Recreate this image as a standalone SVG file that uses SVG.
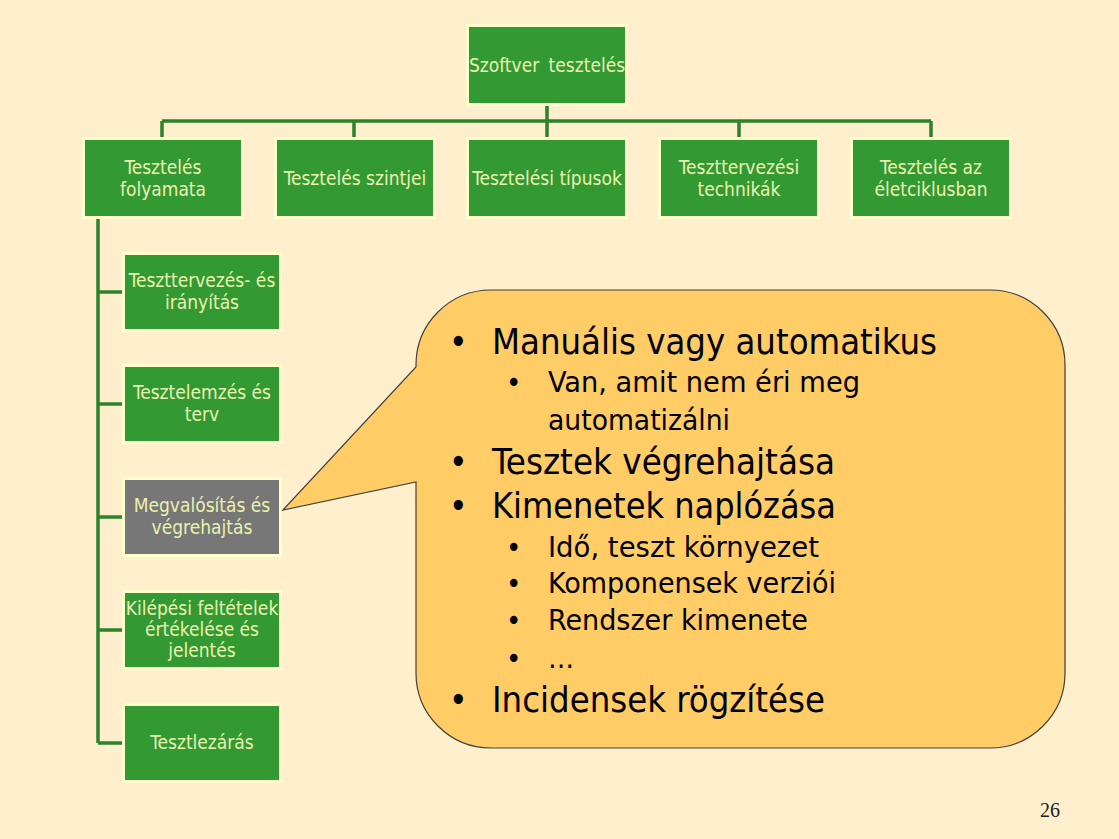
<svg xmlns="http://www.w3.org/2000/svg" width="1119" height="839" viewBox="0 0 1119 839">
<defs>
<style>
.bg{fill:#FFEFCC}
.box{fill:#339933;stroke:#FFFFCC;stroke-width:3}
.gray{fill:#777777;stroke:#FFFFCC;stroke-width:3}
.lbl{font-family:'DejaVu Sans Condensed','DejaVu Sans',sans-serif;font-size:19px;fill:#EAF2B0;text-anchor:middle}
.conn{stroke:#2C832C;stroke-width:3.5;fill:none}
.callout{fill:#FFCC66;stroke:#404040;stroke-width:1.2}
.t1{font-family:'DejaVu Sans Condensed','DejaVu Sans',sans-serif;font-size:35px;fill:#000}
.t2{font-family:'DejaVu Sans Condensed','DejaVu Sans',sans-serif;font-size:29px;fill:#000}
.pg{font-family:'Liberation Serif',serif;font-size:20px;fill:#222}
</style>
</defs>
<rect class="bg" x="0" y="0" width="1119" height="839"/>

<g id="connectors">
<path class="conn" d="M547,106 V137 M162,121 H931 M162,121 V137 M354,121 V137 M739,121 V137 M931,121 V137"/>
<path class="conn" d="M98,219 V743 M98,292 H122 M98,404 H122 M98,517 H122 M98,630 H122 M98,743 H122"/>
</g>

<g id="n-root">
<rect class="box" x="467.5" y="25.5" width="159" height="79"/>
<text class="lbl" x="547" y="72" word-spacing="4">Szoftver tesztelés</text>
</g>

<g id="n-folyamata">
<rect class="box" x="83.5" y="138.5" width="159" height="79"/>
<text class="lbl" x="163" y="174">Tesztelés</text>
<text class="lbl" x="163" y="196">folyamata</text>
</g>
<g id="n-szintjei">
<rect class="box" x="275.5" y="138.5" width="159" height="79"/>
<text class="lbl" x="355" y="185">Tesztelés szintjei</text>
</g>
<g id="n-tipusok">
<rect class="box" x="467.5" y="138.5" width="159" height="79"/>
<text class="lbl" x="547" y="185">Tesztelési típusok</text>
</g>
<g id="n-technikak">
<rect class="box" x="659.5" y="138.5" width="159" height="79"/>
<text class="lbl" x="739" y="174">Teszttervezési</text>
<text class="lbl" x="739" y="196">technikák</text>
</g>
<g id="n-eletciklus">
<rect class="box" x="851.5" y="138.5" width="159" height="79"/>
<text class="lbl" x="931" y="174">Tesztelés az</text>
<text class="lbl" x="931" y="196">életciklusban</text>
</g>

<g id="n-tervezes">
<rect class="box" x="123.5" y="253.5" width="157" height="77"/>
<text class="lbl" x="202" y="287">Teszttervezés- és</text>
<text class="lbl" x="202" y="309">irányítás</text>
</g>
<g id="n-elemzes">
<rect class="box" x="123.5" y="365.5" width="157" height="77"/>
<text class="lbl" x="202" y="399">Tesztelemzés és</text>
<text class="lbl" x="202" y="421">terv</text>
</g>
<g id="n-megvalositas">
<rect class="gray" x="123.5" y="478.5" width="157" height="77"/>
<text class="lbl" x="202" y="512">Megvalósítás és</text>
<text class="lbl" x="202" y="534">végrehajtás</text>
</g>
<g id="n-kilepesi">
<rect class="box" x="123.5" y="591.5" width="157" height="77"/>
<text class="lbl" x="202" y="615">Kilépési feltételek</text>
<text class="lbl" x="202" y="636">értékelése és</text>
<text class="lbl" x="202" y="657">jelentés</text>
</g>
<g id="n-zaras">
<rect class="box" x="123.5" y="704.5" width="157" height="77"/>
<text class="lbl" x="202" y="749">Tesztlezárás</text>
</g>

<g id="callout">
<path class="callout" d="M283,510 L416,367 L416,365 A75,75 0 0 1 491,290 L990,290 A75,75 0 0 1 1065,365 L1065,673 A75,75 0 0 1 990,748 L491,748 A75,75 0 0 1 416,673 L416,482 Z"/>
<g class="t1">
<text x="449" y="354">•</text><text x="492" y="354" textLength="445" lengthAdjust="spacingAndGlyphs">Manuális vagy automatikus</text>
<text x="449" y="474">•</text><text x="492" y="474" textLength="343" lengthAdjust="spacingAndGlyphs">Tesztek végrehajtása</text>
<text x="449" y="518">•</text><text x="492" y="518" textLength="344" lengthAdjust="spacingAndGlyphs">Kimenetek naplózása</text>
<text x="449" y="712">•</text><text x="492" y="712" textLength="333" lengthAdjust="spacingAndGlyphs">Incidensek rögzítése</text>
</g>
<g class="t2">
<text x="506" y="392">•</text><text x="548" y="392" textLength="312" lengthAdjust="spacingAndGlyphs">Van, amit nem éri meg</text>
<text x="548" y="430" textLength="182" lengthAdjust="spacingAndGlyphs">automatizálni</text>
<text x="506" y="557">•</text><text x="548" y="557" textLength="271" lengthAdjust="spacingAndGlyphs">Idő, teszt környezet</text>
<text x="506" y="593">•</text><text x="548" y="593" textLength="288" lengthAdjust="spacingAndGlyphs">Komponensek verziói</text>
<text x="506" y="630">•</text><text x="548" y="630" textLength="260" lengthAdjust="spacingAndGlyphs">Rendszer kimenete</text>
<text x="506" y="668">•</text><text x="548" y="668">…</text>
</g>
</g>

<text class="pg" x="1040" y="817">26</text>
</svg>
